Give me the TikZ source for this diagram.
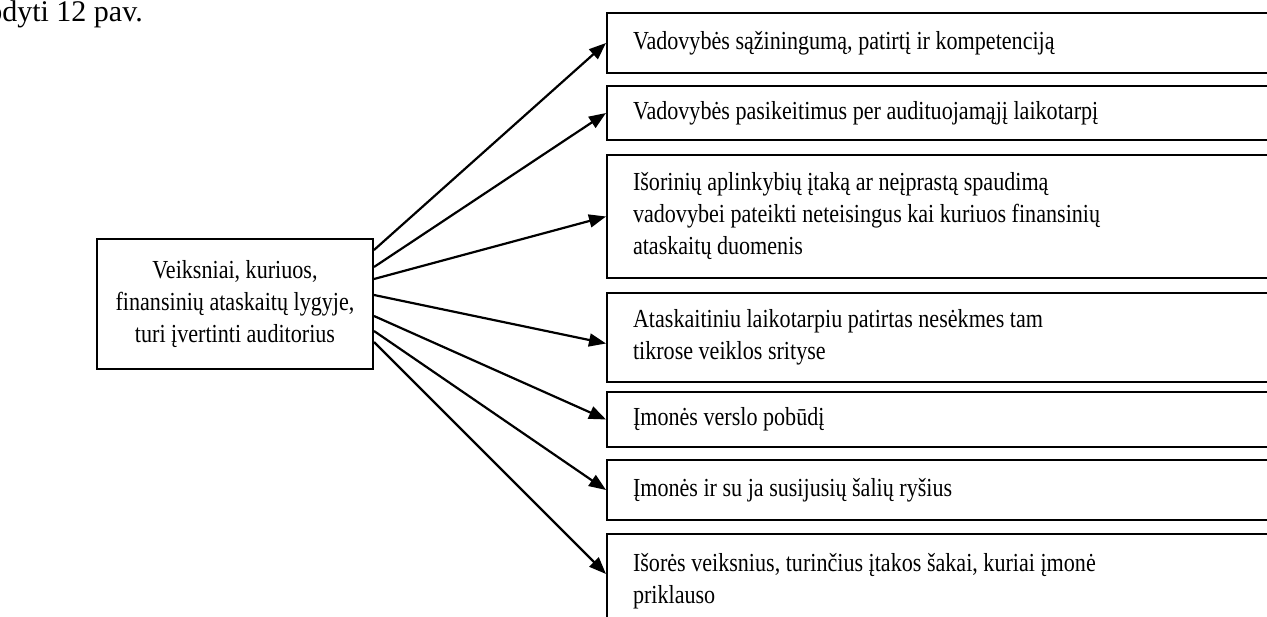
\documentclass[tikz,border=0pt]{standalone}
\usepackage{fontspec}
\setmainfont{Liberation Serif}[FakeStretch=0.85]
\newfontfamily\headfont{Liberation Serif}
\usetikzlibrary{arrows.meta}

\tikzset{
  boxtext/.style={font=\fontsize{26pt}{32pt}\selectfont},
  srcbox/.style={draw, line width=2pt, boxtext, align=center, inner sep=0pt,
                 minimum width=276pt, minimum height=130pt},
  itembox/.style={draw, line width=2pt, boxtext, align=flush left, anchor=north west,
                  text width=640pt, inner xsep=26pt, inner ysep=0pt},
  link/.style={line width=2.2pt, -{Triangle[length=17pt,width=13pt]}}
}

\begin{document}
\begin{tikzpicture}[x=1pt,y=-1pt]
\useasboundingbox (0,0) rectangle (1267,617);

% caption fragment at the top left
\node[font=\headfont\fontsize{30pt}{32pt}\selectfont, anchor=base east, inner sep=0pt]
  (cap) at (143,22) {odyti 12 pav.};

% source box
\node[srcbox] (src) at (235,304)
  {Veiksniai, kuriuos,\\ finansinių ataskaitų lygyje,\\ turi įvertinti auditorius};

% factor boxes
\node[itembox, minimum height=60pt] (b1) at (606,12)
  {Vadovybės sąžiningumą, patirtį ir kompetenciją};
\node[itembox, minimum height=54pt] (b2) at (606,85)
  {Vadovybės pasikeitimus per audituojamąjį laikotarpį};
\node[itembox, minimum height=123pt] (b3) at (606,154)
  {Išorinių aplinkybių įtaką ar neįprastą spaudimą\\
   vadovybei pateikti neteisingus kai kuriuos finansinių\\
   ataskaitų duomenis};
\node[itembox, minimum height=89pt] (b4) at (606,292)
  {Ataskaitiniu laikotarpiu patirtas nesėkmes tam\\ tikrose veiklos srityse};
\node[itembox, minimum height=55pt] (b5) at (606,391)
  {Įmonės verslo pobūdį};
\node[itembox, minimum height=60pt] (b6) at (606,459)
  {Įmonės ir su ja susijusių šalių ryšius};
\node[itembox, minimum height=95pt] (b7) at (606,533)
  {Išorės veiksnius, turinčius įtakos šakai, kuriai įmonė\\ priklauso};

% connectors
\draw[link] ([yshift=54pt]src.east) -- (b1.west);
\draw[link] ([yshift=37pt]src.east) -- (b2.west);
\draw[link] ([yshift=25pt]src.east) -- (b3.west);
\draw[link] ([yshift=9pt]src.east) -- ([yshift=-6pt]b4.west);
\draw[link] ([yshift=-12pt]src.east) -- (b5.west);
\draw[link] ([yshift=-27pt]src.east) -- (b6.west);
\draw[link] ([yshift=-38pt]src.east) -- ([yshift=7.5pt]b7.west);
\end{tikzpicture}
\end{document}
